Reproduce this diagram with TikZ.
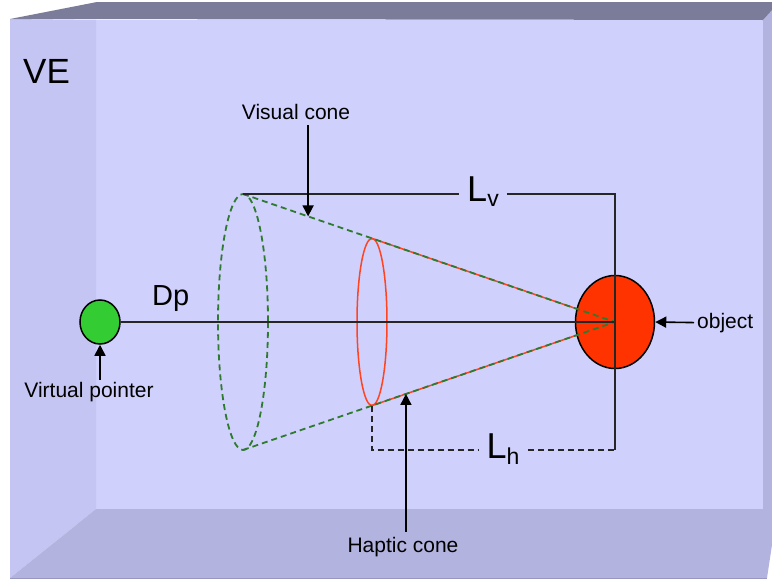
\documentclass[tikz,border=0pt]{standalone}
\usepackage{fontspec}
\setmainfont{Liberation Sans}
\usetikzlibrary{arrows.meta,calc,shapes.geometric}

\definecolor{backwall}{HTML}{D0D0FC}
\definecolor{sidewall}{HTML}{C5C5F3}
\definecolor{floorcol}{HTML}{B3B3E0}
\definecolor{ceilcol}{HTML}{7B7B9A}
\definecolor{visgreen}{HTML}{2E7A2E}
\definecolor{hapred}{HTML}{FF4422}
\definecolor{objred}{HTML}{FF3300}
\definecolor{ptrgreen}{HTML}{33CC33}

\newcommand{\fsize}[1]{\fontsize{#1}{#1}\selectfont}

\begin{document}
\begin{tikzpicture}[x={(1pt,0)}, y={(0,-1pt)},
    lbl/.style={font=\fsize{21}, inner sep=0pt},
    lenlbl/.style={font=\fsize{36}, inner ysep=0pt, inner xsep=8.5pt, anchor=base},
    pointer/.style={line width=1.6pt, -{Triangle[length=11pt,width=11pt]}},
    vcone/.style={visgreen, line width=1.8pt, dash pattern=on 6pt off 4pt},
    hcone/.style={hapred, line width=1.5pt},
    dim/.style={line width=1.6pt, black!85}]
  \useasboundingbox (0,0) rectangle (772,581);
  % room
  \fill[backwall] (96,20) rectangle (763,509);
  \fill[sidewall] (10,19) -- (96,20) -- (96,509) -- (10,578) -- cycle;
  \fill[floorcol] (10,578) -- (96,509) -- (772,509) -- (772,545) -- (767,578) -- cycle;
  \fill[floorcol] (763,20) -- (772,10) -- (772,509) -- (763,509) -- cycle;
  \fill[ceilcol] (10,19) -- (97,2) -- (772,2) -- (772,10) -- (763,20) -- cycle;
  \draw[floorcol!85!black, line width=1pt] (10,578) -- (767,578);

  \coordinate (objc) at (615,322);
  \coordinate (vtop) at (243,194); \coordinate (vbot) at (243,450);
  \coordinate (htop) at ($(vtop)!0.347!(objc)$);
  \coordinate (hbot) at ($(vbot)!0.347!(objc)$);
  \coordinate (vcorner) at (615,194); \coordinate (hcorner) at (615,450);

  % cones
  \draw[vcone] (243,322) ellipse [x radius=25, y radius=128];
  \draw[hcone] (372,322) ellipse [x radius=15, y radius=83.6];
  \node[ellipse, draw, line width=1.5pt, fill=objred, minimum width=79pt,
        minimum height=93pt, inner sep=0pt] (obj) at (objc) {};
  \draw[hcone] (htop) -- (obj) (hbot) -- (obj);
  \draw[vcone] (vtop) -- (objc) (vbot) -- (objc);

  % lengths
  \node[ellipse, draw, line width=1.5pt, fill=ptrgreen, minimum width=40pt,
        minimum height=44pt, inner sep=0pt] (ptr) at (100,322) {};
  \draw[dim] (ptr) -- (objc);
  \node[lenlbl] (lv) at (483,201) {L\raisebox{-5pt}{\fsize{23}v}};
  \node[lenlbl] (lh) at (503,458) {L\raisebox{-6pt}{\fsize{23}h}};
  \draw[dim] (vtop) -- (vtop -| lv.west) (lv.east |- vtop) -- (vcorner) -- (hcorner);
  \draw[dim, dash pattern=on 6pt off 4pt] (hbot) -- (hbot |- hcorner) -- (lh.west |- hcorner)
    (lh.east |- hcorner) -- (hcorner);

  % labels
  \node[font=\fsize{35}, inner sep=0pt, anchor=base west] (ve) at (23,83) {VE};
  \node[font=\fsize{29}, inner sep=0pt, anchor=base west] (dp) at (152,305) {Dp};
  \node[lbl] (lvis) at (296,112) {Visual cone};
  \node[lbl, anchor=base] (lhap) at (403,552) {Haptic cone};
  \node[lbl, anchor=base west] (lobj) at (697,328) {object};
  \node[lbl, anchor=base] (lptr) at (89,397) {Virtual pointer};

  \coordinate (vtip) at ($(vtop)!0.175!(objc)$);
  \coordinate (htip) at ($(vbot)!0.438!(objc)$);
  \draw[pointer] ([yshift=-5pt]lvis.south -| vtip) -- (vtip);
  \draw[pointer] ([yshift=5pt]lhap.north -| htip) -- (htip);
  \draw[pointer] ([xshift=-3pt]lobj.west) -- (obj.east);
  \draw[pointer] ([yshift=2pt]lptr.north -| ptr) -- (ptr.south);
\end{tikzpicture}
\end{document}
